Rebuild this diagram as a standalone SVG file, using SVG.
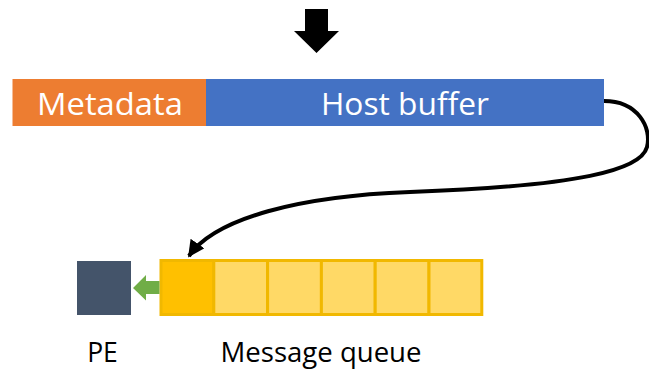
<svg xmlns="http://www.w3.org/2000/svg" width="649" height="370" viewBox="0 0 649 370">
  <style>
    .lbl { font-family: "Open Sans", "Noto Sans", "Liberation Sans", sans-serif; }
    .white { fill: #ffffff; font-size: 31px; }
    .dark { fill: #000000; font-size: 26.5px; }
    .cell { fill: #FFD966; stroke: #F1B800; stroke-width: 3; }
    .head { fill: #FFC000; }
  </style>
  <defs>
    <marker id="tip" viewBox="0 0 10 10" refX="9" refY="5" markerWidth="4.2" markerHeight="4.2" orient="auto" markerUnits="strokeWidth">
      <path d="M0,0 L10,5 L0,10 Z" fill="#000"/>
    </marker>
  </defs>

  <!-- incoming block arrow -->
  <g id="incoming">
    <polygon points="305,9 328,9 328,31 339,31 316.5,53 294,31 305,31" fill="#000"/>
  </g>

  <!-- buffer: metadata header + host buffer -->
  <g id="metadata">
    <rect x="12.5" y="79" width="193.5" height="47" fill="#ED7D31"/>
    <text class="lbl white" x="110" y="115" text-anchor="middle" textLength="146" lengthAdjust="spacingAndGlyphs">Metadata</text>
  </g>
  <g id="host-buffer">
    <rect x="206" y="79" width="398" height="47" fill="#4472C4"/>
    <text class="lbl white" x="405" y="115" text-anchor="middle" textLength="168" lengthAdjust="spacingAndGlyphs">Host buffer</text>
  </g>

  <!-- processing element -->
  <g id="pe">
    <rect x="77" y="261" width="54" height="54" fill="#44546A"/>
    <text class="lbl dark" x="102.5" y="362" text-anchor="middle">PE</text>
  </g>

  <!-- message queue: six slots, first one is the head -->
  <g id="message-queue">
    <rect class="cell head" x="161" y="260.5" width="52.8" height="54"/>
    <rect class="cell" x="213.8" y="260.5" width="53.8" height="54"/>
    <rect class="cell" x="267.6" y="260.5" width="53.8" height="54"/>
    <rect class="cell" x="321.4" y="260.5" width="53.8" height="54"/>
    <rect class="cell" x="375.2" y="260.5" width="53.8" height="54"/>
    <rect class="cell" x="429" y="260.5" width="52.8" height="54"/>
    <text class="lbl dark" x="321" y="362" text-anchor="middle" textLength="201" lengthAdjust="spacingAndGlyphs">Message queue</text>
  </g>

  <g id="connectors">
    <!-- host buffer to queue head -->
    <path d="M604,101 C638,101 652,128 647,147 C641,170 580,186 410,192 C300,196 215,218 189,256" fill="none" stroke="#000" stroke-width="4" marker-end="url(#tip)"/>
    <!-- dequeue to PE -->
    <polygon points="159.5,281 146,281 146,275 133,288 146,300.5 146,294 159.5,294" fill="#70AD47"/>
  </g>
</svg>
